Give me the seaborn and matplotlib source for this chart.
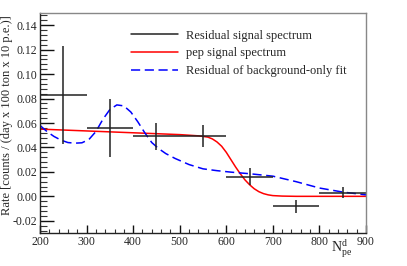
import numpy as np
import pandas as pd
import seaborn as sns
import matplotlib.pyplot as plt
from matplotlib.lines import Line2D
from matplotlib.ticker import MultipleLocator

# residual signal spectrum (bin centres, values, errors)
bin_centers = [250, 350, 450, 550, 650, 750, 850]
rates = [0.083, 0.056, 0.049, 0.049, 0.016, -0.008, 0.003]
rate_errs = [0.040, 0.024, 0.011, 0.009, 0.007, 0.0053, 0.0045]
bin_half_width = 50

# pep signal spectrum
pep_x = [200, 300, 400, 500, 540, 560, 570, 580, 590, 600, 610, 620, 630,
         640, 650, 660, 670, 680, 690, 700, 720, 750, 800, 900]
pep_y = [0.055, 0.0535, 0.052, 0.0505, 0.0495, 0.0485, 0.047, 0.0445, 0.041,
         0.036, 0.030, 0.024, 0.0185, 0.0135, 0.0095, 0.0062, 0.0038, 0.0022,
         0.0012, 0.0006, 0.0002, 0.0, 0.0, 0.0]

# residual of background-only fit
bkg_x = [200, 215, 230, 245, 260, 275, 290, 305, 320, 335, 350, 365, 380,
         395, 410, 425, 440, 455, 470, 490, 520, 550, 580, 610, 650, 700,
         750, 800, 850, 900]
bkg_y = [0.058, 0.053, 0.049, 0.046, 0.044, 0.0435, 0.0438, 0.0465, 0.053,
         0.063, 0.071, 0.0748, 0.074, 0.069, 0.061, 0.052, 0.044, 0.039,
         0.035, 0.031, 0.026, 0.0225, 0.021, 0.0198, 0.0185, 0.0165, 0.012,
         0.0068, 0.0035, 0.0012]

sns.set_style('ticks')
plt.rcParams['font.family'] = ['Liberation Serif', 'DejaVu Serif']
plt.rcParams['mathtext.fontset'] = 'custom'
plt.rcParams['mathtext.rm'] = 'Liberation Serif'

fig, ax = plt.subplots(figsize=(4.07, 2.66), dpi=100)
fig.subplots_adjust(left=40 / 407, right=366 / 407, bottom=1 - 233 / 266, top=1 - 13 / 266)

pep_df = pd.DataFrame({'x': pep_x, 'y': pep_y})
bkg_df = pd.DataFrame({'x': bkg_x, 'y': bkg_y})

sns.lineplot(data=pep_df, x='x', y='y', ax=ax, color='#ff0000', lw=1.1,
             estimator=None, sort=False)
sns.lineplot(data=bkg_df, x='x', y='y', ax=ax, color='#0000ff', lw=1.1,
             estimator=None, sort=False)
ax.lines[-1].set_dashes([6, 3])

ax.errorbar(bin_centers, rates, xerr=bin_half_width, yerr=rate_errs,
            fmt='none', ecolor='#222222', elinewidth=1.1, capsize=0)

ax.set_xlim(200, 900)
ax.set_ylim(-0.03, 0.15)
ax.xaxis.set_major_locator(MultipleLocator(100))
ax.xaxis.set_minor_locator(MultipleLocator(20))
ax.set_yticks(np.arange(-0.02, 0.141, 0.02))
ax.yaxis.set_minor_locator(MultipleLocator(0.004))
ax.yaxis.set_major_formatter(plt.FuncFormatter(lambda v, p: f'{v:.2f}'))
ax.tick_params(which='major', direction='in', color='#111111', width=1,
               labelsize=8.5, pad=2)
ax.tick_params(which='minor', direction='in', color='#333333', width=0.8)
ax.tick_params(axis='y', which='major', length=10)
ax.tick_params(axis='y', which='minor', length=5)
ax.tick_params(axis='x', which='major', length=6)
ax.tick_params(axis='x', which='minor', length=3)
ax.spines['left'].set_color('#222222')
ax.spines['bottom'].set_color('#222222')
ax.spines['top'].set_color('#888888')
ax.spines['right'].set_color('#888888')
for s in ax.spines.values():
    s.set_linewidth(1)

ax.set_xlabel(r'N$^{\rm d}_{\rm pe}$', fontsize=10)
ax.xaxis.set_label_coords(0.958, -0.02)
ax.xaxis.label.set_horizontalalignment('right')
ax.set_ylabel('Rate [counts / (day x 100 ton x 10 p.e.)]', fontsize=9)
ax.yaxis.set_label_coords(-0.082, 0.535)

handles = [Line2D([], [], color='#222222', lw=1.1),
           Line2D([], [], color='#ff0000', lw=1.1),
           Line2D([], [], color='#0000ff', lw=1.1, dashes=[6, 3])]
labels = ['Residual signal spectrum', 'pep signal spectrum',
          'Residual of background-only fit']
ax.legend(handles, labels, loc='upper left', bbox_to_anchor=(0.255, 0.958),
          frameon=False, fontsize=9, handlelength=3.8, handletextpad=0.6,
          labelspacing=0.45, borderaxespad=0.2)

plt.savefig('out.png', dpi=100)
